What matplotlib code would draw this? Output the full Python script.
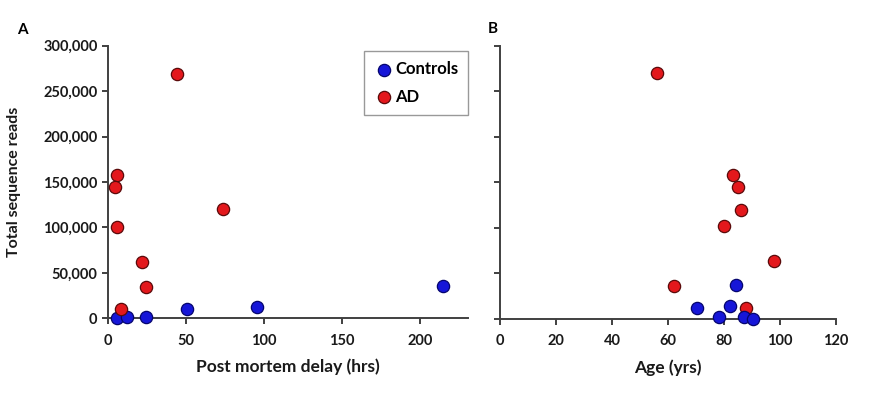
import matplotlib
matplotlib.use("Agg")
import matplotlib.pyplot as plt
from matplotlib.ticker import FuncFormatter

plt.rcParams['font.family'] = ['Lato', 'DejaVu Sans']
plt.rcParams['font.weight'] = 'bold'

# Panel A: post mortem delay (hrs) vs total sequence reads
ad_pmd = [44.5, 5.7, 4.7, 5.7, 73.5, 21.7, 24.3, 8.5]
ad_reads_a = [269000, 158000, 144000, 101000, 120000, 62000, 34500, 10600]
ctrl_pmd = [5.7, 12.5, 24.3, 50.5, 95.9, 215]
ctrl_reads_a = [0, 1000, 1000, 10600, 12400, 36000]

# Panel B: age (yrs) vs total sequence reads
ad_age = [56.1, 83.1, 85.1, 86.2, 79.9, 98.0, 62.2, 88.0]
ad_reads_b = [269500, 158000, 145000, 120000, 102000, 63000, 35500, 11700]
ctrl_age = [84.2, 70.2, 82.2, 78.2, 87.0, 90.4]
ctrl_reads_b = [37400, 11700, 13900, 2200, 1500, 0]

yticks = [0, 50000, 100000, 150000, 200000, 250000, 300000]
xticks_a = [0, 50, 100, 150, 200]
xticks_b = [0, 20, 40, 60, 80, 100, 120]

red_face, red_edge = '#e3181c', '#5a0a0a'
blue_face, blue_edge = '#1616d8', '#05056e'
ms = 78

W, H = 889, 393
fig = plt.figure(figsize=(W / 100, H / 100), dpi=100)

def rect(x0, x1, ytop, ybot):
    return [x0 / W, 1 - ybot / H, (x1 - x0) / W, (ybot - ytop) / H]

axA = fig.add_axes(rect(108, 468, 45.7, 318.3))
axB = fig.add_axes(rect(500, 836, 45.7, 318.7))

for ax in (axA, axB):
    ax.set_ylim(0, 300000)
    ax.set_yticks(yticks)
    ax.spines['top'].set_visible(False)
    ax.spines['right'].set_visible(False)
    for s in ('left', 'bottom'):
        ax.spines[s].set_color('#404040')
        ax.spines[s].set_linewidth(1.4)
    ax.tick_params(direction='out', length=4, width=1.4, color='#404040',
                   labelsize=10.5, labelcolor='#1a1a1a')
    ax.tick_params(axis='x', pad=7)
    ax.patch.set_alpha(0)

axA.set_xlim(0, 231)
axA.set_xticks(xticks_a)
axA.yaxis.set_major_formatter(FuncFormatter(lambda v, p: f"{int(v):,}"))
axB.set_xlim(0, 120)
axB.set_xticks(xticks_b)
axB.set_yticklabels([])

axA.scatter(ctrl_pmd, ctrl_reads_a, s=ms, color=blue_face, edgecolors=blue_edge,
            linewidths=0.9, zorder=3, clip_on=False, label='Controls')
axA.scatter(ad_pmd, ad_reads_a, s=ms, color=red_face, edgecolors=red_edge,
            linewidths=0.9, zorder=3, clip_on=False, label='AD')
axB.scatter(ad_age, ad_reads_b, s=ms, color=red_face, edgecolors=red_edge,
            linewidths=0.9, zorder=3, clip_on=False)
axB.scatter(ctrl_age, ctrl_reads_b, s=ms, color=blue_face, edgecolors=blue_edge,
            linewidths=0.9, zorder=3, clip_on=False)

axA.set_xlabel('Post mortem delay (hrs)', fontsize=12.5, fontweight='bold',
               color='#1a1a1a', labelpad=8)
axA.set_ylabel('Total sequence reads', fontsize=11.5, fontweight='bold',
               color='#1a1a1a', labelpad=16)
axB.set_xlabel('Age (yrs)', fontsize=12.5, fontweight='bold', color='#1a1a1a',
               labelpad=8)

leg = axA.legend(loc='upper right', bbox_to_anchor=(1.0, 0.98), frameon=True,
                 fancybox=False, edgecolor='#808080', fontsize=12,
                 handletextpad=0.05, borderpad=0.6, labelspacing=0.7,
                 handlelength=1.2, borderaxespad=0)
leg.get_frame().set_linewidth(1.0)

fig.text(22 / W, 1 - 30 / H, 'A', fontsize=11, fontweight='bold', ha='center', va='center')
fig.text(493 / W, 1 - 29 / H, 'B', fontsize=11, fontweight='bold', ha='center', va='center')

fig.savefig('out.png', dpi=100, facecolor='white')
